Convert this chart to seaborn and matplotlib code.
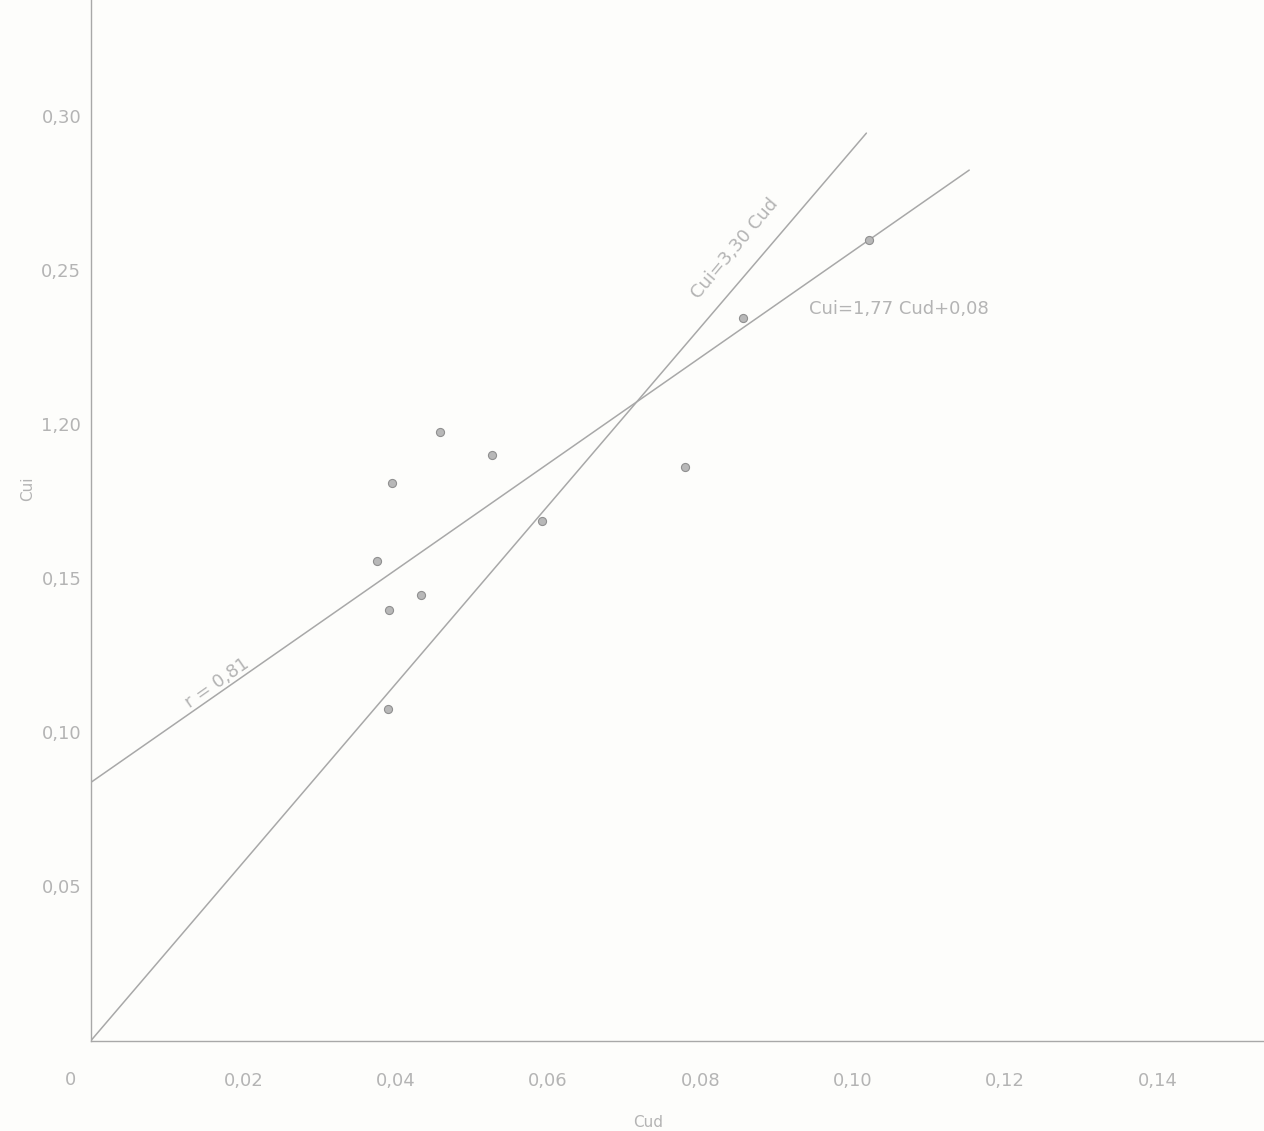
import numpy as np
import pandas as pd
import seaborn as sns
import matplotlib
matplotlib.use("Agg")
import matplotlib.pyplot as plt

# measured points (Cud, Cui)
cud = [0.0375, 0.0395, 0.0391, 0.0433, 0.0458, 0.0527, 0.0390, 0.0592, 0.0780, 0.0856, 0.1022]
cui = [0.1555, 0.1810, 0.1396, 0.1445, 0.1974, 0.1900, 0.1075, 0.1685, 0.1860, 0.2344, 0.2597]

# the two drawn lines, end points
line_a_x = [0.0, 0.1018]      # Cui = 3,30 Cud
line_a_y = [0.0, 0.2945]
line_b_x = [0.0, 0.1153]      # Cui = 1,77 Cud + 0,08
line_b_y = [0.0838, 0.2825]

x_ticks = [0.0, 0.02, 0.04, 0.06, 0.08, 0.10, 0.12, 0.14]
x_labels = ["0", "0,02", "0,04", "0,06", "0,08", "0,10", "0,12", "0,14"]
y_ticks = [0.05, 0.10, 0.15, 0.20, 0.25, 0.30]
y_labels = ["0,05", "0,10", "0,15", "1,20", "0,25", "0,30"]

sns.set_style("white")
plt.rcParams['font.family'] = ['DejaVu Sans']

ink = "#a8a8a8"
txt = "#b4b4b4"

fig = plt.figure(figsize=(12.64, 11.31), dpi=100, facecolor="#fdfdfb")
ax = fig.add_axes([0.072, 0.080, 0.928, 0.920])
ax.set_facecolor("#fdfdfb")

pts = pd.DataFrame({"Cud": cud, "Cui": cui})
sns.lineplot(x=line_a_x, y=line_a_y, ax=ax, color=ink, linewidth=1.1)
sns.lineplot(x=line_b_x, y=line_b_y, ax=ax, color=ink, linewidth=1.1)
sns.scatterplot(data=pts, x="Cud", y="Cui", ax=ax, s=34, color="#b8b8b8",
                edgecolor="#909090", linewidth=0.8, zorder=5)

ax.set_xlim(0, 0.154)
ax.set_ylim(0, 0.3377)

for side in ["top", "right"]:
    ax.spines[side].set_visible(False)
for side in ["left", "bottom"]:
    ax.spines[side].set_color(ink)
    ax.spines[side].set_linewidth(1.0)

ax.set_xticks(x_ticks[1:])
ax.set_xticklabels(x_labels[1:])
ax.set_yticks(y_ticks)
ax.set_yticklabels(y_labels)
ax.tick_params(axis="both", colors=ink, labelcolor=txt, labelsize=13,
               length=5, width=1.0, direction="out")
ax.tick_params(axis="x", pad=18)
ax.tick_params(axis="y", pad=2)
ax.text(-0.00275, -0.0128, x_labels[0], color=txt, fontsize=13, ha="center", va="center")

ax.set_xlabel("Cud", color=txt, fontsize=11)
ax.set_ylabel("Cui", color=txt, fontsize=11)
ax.xaxis.set_label_coords(0.475, -0.072)
ax.yaxis.set_label_coords(-0.048, 0.53)

ax.text(0.0845, 0.257, "Cui=3,30 Cud", color=txt, fontsize=13,
        rotation=50, ha="center", va="center", rotation_mode="anchor")
ax.text(0.0942, 0.2375, "Cui=1,77 Cud+0,08", color=txt, fontsize=13,
        ha="left", va="center")
ax.text(0.0166, 0.116, "r = 0,81", color=txt, fontsize=13,
        rotation=35, ha="center", va="center", rotation_mode="anchor")

plt.grid(False)
plt.savefig("out.png", dpi=100, facecolor=fig.get_facecolor())
